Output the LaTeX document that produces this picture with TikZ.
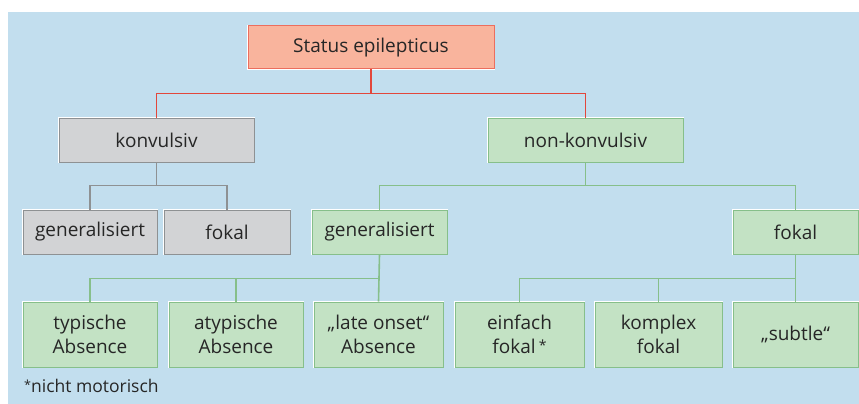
\documentclass[tikz,border=0pt]{standalone}
\usepackage{fontspec}
\setmainfont{Open Sans}
\definecolor{bg}{HTML}{C2DEEE}
\definecolor{grayfill}{HTML}{D2D3D5}
\definecolor{grayline}{HTML}{8E9193}
\definecolor{greenfill}{HTML}{C3E2C4}
\definecolor{greenline}{HTML}{86BF8A}
\definecolor{salfill}{HTML}{F9B49D}
\definecolor{salline}{HTML}{EC6E5E}
\definecolor{redline}{HTML}{E2473B}
\definecolor{txt}{HTML}{262626}
\tikzset{
  basebox/.style={rectangle, inner sep=0pt, text=txt, font=\fontsize{19}{23.5}\selectfont, align=center,
    preaction={draw=white, line width=2.4pt}, line width=1pt},
  graybox/.style={basebox, fill=grayfill, draw=grayline},
  greenbox/.style={basebox, fill=greenfill, draw=greenline},
  salbox/.style={basebox, fill=salfill, draw=salline},
  redc/.style={draw=redline, line width=1.6pt},
  grayc/.style={draw=grayline, line width=1.6pt},
  greenc/.style={draw=greenline, line width=1.6pt},
}
\begin{document}
\begin{tikzpicture}[x=1pt,y=-1pt]
\useasboundingbox (0,0) rectangle (859,404);
\fill[white] (0,0) rectangle (859,404);
\fill[bg] (8,12) rectangle (859,404);
% level 1
\node[salbox, minimum width=246pt, minimum height=43pt] (se) at (371,47.5) {Status epilepticus};
% level 2
\node[graybox, minimum width=195pt, minimum height=44pt] (kon) at (156.5,140) {konvulsiv};
\node[greenbox, minimum width=195pt, minimum height=44pt] (nkon) at (585.5,140) {non-konvulsiv};
% level 3
\node[graybox, minimum width=134pt, minimum height=44pt] (gg) at (90,232) {generalisiert};
\node[graybox, minimum width=126pt, minimum height=44pt] (gf) at (227,232) {fokal};
\node[greenbox, minimum width=135pt, minimum height=44pt] (ng) at (379.5,232) {generalisiert};
\node[greenbox, minimum width=125pt, minimum height=44pt] (nf) at (795.5,232) {fokal};
% level 4
\node[greenbox, minimum width=134pt, minimum height=65pt] (ta) at (90,334.5) {typische\\Absence};
\node[greenbox, minimum width=134pt, minimum height=65pt] (aa) at (236,334.5) {atypische\\Absence};
\node[greenbox, minimum width=129pt, minimum height=65pt] (la) at (378.5,334.5) {„late onset“\\Absence};
\node[greenbox, minimum width=129pt, minimum height=65pt] (ef) at (519.5,334.5) {einfach\\fokal\,\raisebox{0.3ex}{\fontsize{14}{14}\selectfont*}};
\node[greenbox, minimum width=127pt, minimum height=65pt] (kf) at (658.5,334.5) {komplex\\fokal};
\node[greenbox, minimum width=125pt, minimum height=65pt] (su) at (795.5,334.5) {„subtle“};
% connectors
\coordinate (j1) at (371,93.5);
\draw[redc] (se.south) -- (j1);
\draw[redc] (kon.north) |- (j1) -| (nkon.north);
\coordinate (j2) at (156.5,185.5);
\draw[grayc] (kon.south) -- (j2);
\draw[grayc] (gg.north) |- (j2) -| (gf.north);
\coordinate (j3) at (585.5,185.5);
\draw[greenc] (nkon.south) -- (j3);
\draw[greenc] (ng.north) |- (j3) -| (nf.north);
\coordinate (j4) at (379.5,278.5);
\draw[greenc] (ng.south) -- (la.north);
\draw[greenc] (ta.north) |- (j4);
\draw[greenc] (aa.north) -- (aa.north |- j4);
\coordinate (j5) at (795.5,278.5);
\draw[greenc] (nf.south) -- (su.north);
\draw[greenc] (ef.north) |- (j5);
\draw[greenc] (kf.north) -- (kf.north |- j5);
% footnote
\node[anchor=west, text=txt, font=\fontsize{17.5}{19}\selectfont, inner sep=0pt] (fn) at (24,386) {\raisebox{0.35ex}{\fontsize{12.5}{12.5}\selectfont*}nicht motorisch};
\end{tikzpicture}
\end{document}
